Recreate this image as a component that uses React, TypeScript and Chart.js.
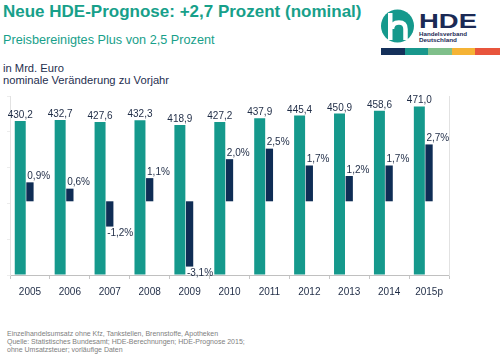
import React, { useEffect, useRef } from 'react';
import { Chart, registerables } from 'chart.js';

Chart.register(...registerables);

const years = ['2005', '2006', '2007', '2008', '2009', '2010', '2011', '2012', '2013', '2014', '2015p'];
const revenue = [430.2, 432.7, 427.6, 432.3, 418.9, 427.2, 437.9, 445.4, 450.9, 458.6, 471.0];
const change = [0.9, 0.6, -1.2, 1.1, -3.1, 2.0, 2.5, 1.7, 1.2, 1.7, 2.7];
const spacer = years.map(() => null);

const TEAL = '#15998c';
const NAVY = '#0f2d55';
const TITLE_TEAL = '#17a08a';
const LABEL_COLOR = '#1e2b45';
const FONT = '"Liberation Sans", Arial, Helvetica, sans-serif';

const fmt = (v: number) => v.toFixed(1).replace('.', ',');

const labelPlugin = {
  id: 'valueLabels',
  afterDatasetsDraw(chart: any) {
    const ctx = chart.ctx;
    ctx.save();
    ctx.font = '10px ' + FONT;
    ctx.fillStyle = LABEL_COLOR;
    const m0 = chart.getDatasetMeta(0);
    m0.data.forEach((el: any, i: number) => {
      ctx.textAlign = 'center';
      ctx.textBaseline = 'alphabetic';
      ctx.fillText(fmt(revenue[i]), el.x, el.y - 3);
    });
    const m1 = chart.getDatasetMeta(1);
    m1.data.forEach((el: any, i: number) => {
      const v = change[i];
      const left = el.x - el.width / 2 + 1;
      ctx.textAlign = 'left';
      if (v >= 0) {
        ctx.textBaseline = 'alphabetic';
        ctx.fillText(fmt(v) + '%', left, el.y - 3.5);
      } else {
        ctx.textBaseline = 'top';
        ctx.fillText(fmt(v) + '%', left, el.y + 2);
      }
    });
    ctx.restore();
  },
};

function BarChart() {
  const ref = useRef<HTMLCanvasElement>(null);
  useEffect(() => {
    if (!ref.current) return;
    const chart = new Chart(ref.current, {
      type: 'bar',
      data: {
        labels: years,
        datasets: [
          {
            label: 'Umsatz',
            data: revenue,
            backgroundColor: TEAL,
            yAxisID: 'y',
            categoryPercentage: 0.73,
            barPercentage: 1.13,
          },
          {
            label: 'Veränderung',
            data: change,
            backgroundColor: NAVY,
            yAxisID: 'y1',
            categoryPercentage: 0.73,
            barPercentage: 0.75,
          },
          {
            label: '',
            data: spacer as any,
            backgroundColor: 'rgba(0,0,0,0)',
            yAxisID: 'y1',
            categoryPercentage: 0.73,
            barPercentage: 0.75,
          },
        ],
      },
      options: {
        responsive: false,
        animation: false,
        layout: { padding: { left: 7, right: 13, top: 6, bottom: 4 } },
        plugins: {
          legend: { display: false },
          tooltip: { enabled: false },
        },
        scales: {
          x: {
            grid: {
              offset: true,
              drawOnChartArea: false,
              drawTicks: true,
              tickLength: 4,
              color: '#c8c8c8',
            },
            border: { color: '#c0c0c0', width: 1 },
            ticks: {
              color: LABEL_COLOR,
              font: { family: FONT, size: 10 },
              padding: 7,
              maxRotation: 0,
            },
          },
          y: {
            position: 'left',
            min: 0,
            max: 500,
            ticks: { display: false, stepSize: 100 },
            grid: {
              drawOnChartArea: false,
              drawTicks: true,
              tickLength: 3,
              color: '#ececec',
            },
            border: { color: '#e2e2e2', width: 1 },
          },
          y1: {
            position: 'right',
            min: -3.5,
            max: 5,
            ticks: { display: false },
            grid: { display: false },
            border: { color: '#e2e2e2', width: 1 },
          },
        },
      },
      plugins: [labelPlugin],
    });
    return () => chart.destroy();
  }, []);
  return <canvas ref={ref} width={470} height={219} style={{ display: 'block' }} />;
}

export default function App() {
  return (
    <div
      style={{
        position: 'fixed',
        left: 0,
        top: 0,
        width: 500,
        height: 360,
        background: '#ffffff',
        fontFamily: FONT,
        overflow: 'hidden',
      }}
    >
      <div
        style={{
          position: 'absolute',
          left: 3,
          top: 3,
          fontSize: 17,
          lineHeight: '17px',
          fontWeight: 'bold',
          color: TITLE_TEAL,
          whiteSpace: 'nowrap',
        }}
      >
        Neue HDE-Prognose: +2,7 Prozent (nominal)
      </div>
      <div
        style={{
          position: 'absolute',
          left: 3,
          top: 34,
          fontSize: 12.7,
          lineHeight: '12.7px',
          color: TITLE_TEAL,
          whiteSpace: 'nowrap',
        }}
      >
        Preisbereinigtes Plus von 2,5 Prozent
      </div>
      <div
        style={{
          position: 'absolute',
          left: 3,
          top: 61.5,
          fontSize: 11.2,
          lineHeight: '12.4px',
          color: '#1f2f4f',
          whiteSpace: 'nowrap',
        }}
      >
        <div>in Mrd. Euro</div>
        <div>nominale Veränderung zu Vorjahr</div>
      </div>

      <svg
        width={130}
        height={60}
        viewBox="370 0 130 60"
        style={{ position: 'absolute', left: 370, top: 0 }}
      >
        <circle cx={397.5} cy={26} r={16.5} fill={TEAL} />
        <rect x={388} y={13} width={4.5} height={27} fill="#ffffff" />
        <path
          d="M392 29 Q392 22.5 399 22.5 Q405.5 22.5 405.5 29 L405.5 40"
          fill="none"
          stroke="#ffffff"
          strokeWidth={4.5}
        />
        <text
          x={419}
          y={27.5}
          fontSize={21}
          fontWeight={900}
          fill="#1b2a55"
          fontFamily={FONT}
          textLength={58}
          lengthAdjust="spacingAndGlyphs"
        >
          HDE
        </text>
        <text
          x={419}
          y={35.5}
          fontSize={6}
          fontWeight="bold"
          fill="#1b2a55"
          fontFamily={FONT}
          textLength={48}
          lengthAdjust="spacingAndGlyphs"
        >
          Handelsverband
        </text>
        <text
          x={419}
          y={41.8}
          fontSize={6}
          fontWeight="bold"
          fill="#1b2a55"
          fontFamily={FONT}
          textLength={38}
          lengthAdjust="spacingAndGlyphs"
        >
          Deutschland
        </text>
        <rect x={381} y={48} width={24} height={7} fill="#14305a" />
        <rect x={405} y={48} width={23} height={7} fill="#18978c" />
        <rect x={428} y={48} width={24} height={7} fill="#7fbf8a" />
        <rect x={452} y={48} width={23} height={7} fill="#f5b335" />
        <rect x={475} y={48} width={25} height={7} fill="#e8553c" />
      </svg>

      <div style={{ position: 'absolute', left: 0, top: 90, width: 470, height: 219 }}>
        <BarChart />
      </div>

      <div
        style={{
          position: 'absolute',
          left: 7,
          top: 329.5,
          fontSize: 7,
          lineHeight: '8.4px',
          color: '#808080',
          whiteSpace: 'nowrap',
        }}
      >
        <div>Einzelhandelsumsatz ohne Kfz, Tankstellen, Brennstoffe, Apotheken</div>
        <div>Quelle: Statistisches Bundesamt; HDE-Berechnungen; HDE-Prognose 2015;</div>
        <div>ohne Umsatzsteuer; vorläufige Daten</div>
      </div>
    </div>
  );
}
